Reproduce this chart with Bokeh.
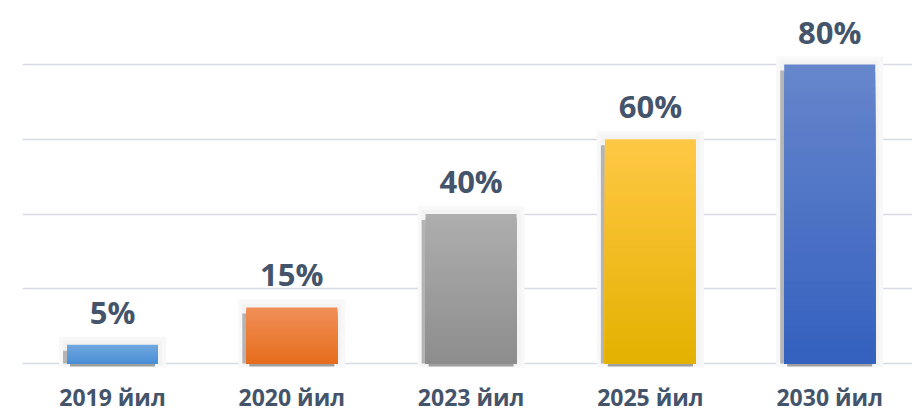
from bokeh.plotting import figure
from bokeh.models import Range1d, FixedTicker, Grid, ColumnDataSource
from bokeh.core.properties import value
from bokeh.embed import file_html
from bokeh.resources import INLINE

# ---- data ----
categories = ["2019 йил", "2020 йил", "2023 йил", "2025 йил", "2030 йил"]
percent = [5, 15, 40, 60, 80]
value_labels = ["5%", "15%", "40%", "60%", "80%"]
grid_ticks = [0, 20, 40, 60, 80]

# ---- styles ----
top_colors = ["#70A8DE", "#F18F58", "#AEAEAE", "#FFC845", "#6786CC"]
bottom_colors = ["#4A8ED6", "#E66D1C", "#8D8D8D", "#E3B100", "#3461BF"]
FONT = "Open Sans"
TEXT_COLOR = "#44546A"

W, H = 912, 411
LEFT = 22
px_x = 179.3           # px per category
px_y = 3.7375          # px per percent
frame_w = W - LEFT
x0 = -90.0 / px_x
y_top = 80 + 64.0 / px_y
y0 = -(H - 363.0) / px_y

p = figure(width=W, height=H, output_backend="svg", toolbar_location=None,
           x_range=Range1d(x0, x0 + frame_w / px_x), y_range=Range1d(y0, y_top),
           x_axis_location=None, y_axis_location=None,
           min_border_left=LEFT, min_border_right=0,
           min_border_top=0, min_border_bottom=0, outline_line_color=None,
           background_fill_color="white", border_fill_color="white")
p.center = []
p.add_layout(Grid(dimension=1, ticker=FixedTicker(ticks=grid_ticks),
                  grid_line_color="#D6DBE3", grid_line_width=1.5))

xs = list(range(len(categories)))
bw = 91.0 / px_x


def hexrgb(h):
    h = h.lstrip("#")
    return tuple(int(h[i:i + 2], 16) for i in (0, 2, 4))


def mix(c1, c2, t):
    a, b = hexrgb(c1), hexrgb(c2)
    return "#%02x%02x%02x" % tuple(round(a[i] + (b[i] - a[i]) * t) for i in range(3))


# soft halo behind bars
hx = 8.0 / px_x
hy = 8.0 / px_y
p.quad(left=[x - bw / 2 - hx for x in xs], right=[x + bw / 2 + hx for x in xs],
       bottom=[-4.0 / px_y] * len(xs), top=[v + hy for v in percent],
       fill_color="#F8F8F8", line_color=None)
hx2 = 4.0 / px_x
p.quad(left=[x - bw / 2 - hx2 for x in xs], right=[x + bw / 2 + hx2 for x in xs],
       bottom=[-2.0 / px_y] * len(xs), top=[v + 4.0 / px_y for v in percent],
       fill_color="#F3F3F3", line_color=None)
# darker left-side shadow strip
sx = 4.0 / px_x
p.quad(left=[x - bw / 2 - sx for x in xs], right=[x - bw / 2 for x in xs],
       bottom=[0] * len(xs), top=[max(v - 6.0 / px_y, 0) for v in percent],
       fill_color="#B4B4B4", line_color=None)
# bottom shadow
p.quad(left=[x - bw / 2 + 3 / px_x for x in xs], right=[x + bw / 2 - 3 / px_x for x in xs],
       bottom=[-3.0 / px_y] * len(xs), top=[0] * len(xs),
       fill_color="#8A8A8A", line_color=None, fill_alpha=0.8)

# gradient bars: nested quads, tallest first
N = 40
L, R, B, T, C = [], [], [], [], []
for k in range(N, 0, -1):
    f = k / N
    for i, x in enumerate(xs):
        L.append(x - bw / 2)
        R.append(x + bw / 2)
        B.append(0)
        T.append(percent[i] * f)
        C.append(mix(bottom_colors[i], top_colors[i], (k - 0.5) / N))
p.quad(source=ColumnDataSource(dict(left=L, right=R, bottom=B, top=T, color=C)),
       left="left", right="right", bottom="bottom", top="top",
       fill_color="color", line_color=None)

# value labels
p.text(x=xs, y=percent, text=value_labels, text_align="center",
       text_baseline="alphabetic", y_offset=-33,
       text_font=value(FONT), text_font_style="bold", text_font_size="31px",
       text_color=TEXT_COLOR)

# category labels
p.text(x=xs, y=[0] * len(xs), text=categories, text_align="center",
       text_baseline="alphabetic", y_offset=33,
       text_font=value(FONT), text_font_style="bold", text_font_size="23px",
       text_color=TEXT_COLOR)

open("out.html", "w").write(file_html(p, INLINE))
